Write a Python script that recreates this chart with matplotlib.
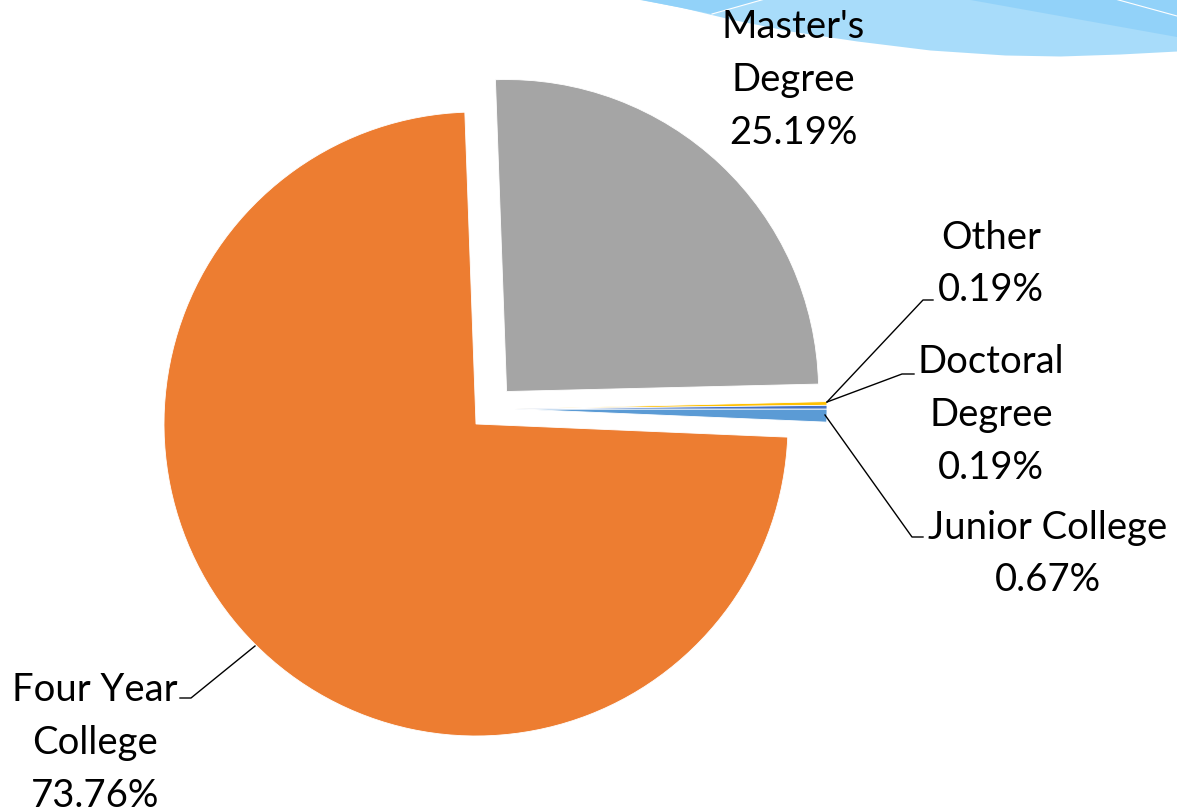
import matplotlib.pyplot as plt
import numpy as np

# education level shares (%), in the order the slices are laid out
categories = ['Junior College', 'Four Year College', "Master's Degree", 'Other', 'Doctoral Degree']
shares = [0.67, 73.76, 25.19, 0.19, 0.19]
colors = ['#5B9BD5', '#ED7D31', '#A5A5A5', '#FFC000', '#4472C4']
label_text = ['Junior College\n0.67%', 'Four Year\nCollege\n73.76%', "Master's\nDegree\n25.19%",
              'Other\n0.19%', 'Doctoral\nDegree\n0.19%']

W, H = 1177, 812
CX, CY, R = 476, 425, 312


# pixel position (from top-left) -> data coords, pie radius = 1
def px(x, y):
    return (x - CX) / R, (CY - y) / R


fig = plt.figure(figsize=(W / 100, H / 100), dpi=100)
ax = fig.add_axes([0, 0, 1, 1])

# decorative swoosh in the top right corner
sx = np.array([637, 680, 730, 790, 857, 930, 1005, 1060, 1120, 1177])
sy = np.array([0, 8, 20, 32, 42, 51, 56, 57, 55, 52])
xs, ys = px(sx, sy)
top = px(0, 0)[1]
ax.fill_between(xs, ys, top, color='#A8DCFA', lw=0, zorder=0)
d1 = np.array([px(637, 0), px(712, 15), px(765, 0)])
d2 = np.array([px(965, 0), px(1177, 38), px(1177, 0)])
ax.fill(d1[:, 0], d1[:, 1], color='#92D2F9', lw=0, zorder=0)
ax.fill(d2[:, 0], d2[:, 1], color='#92D2F9', lw=0, zorder=0)
for (a, b) in [((712, 15), (765, 0)), ((1115, 0), (1177, 17))]:
    p, q = px(*a), px(*b)
    ax.plot([p[0], q[0]], [p[1], q[1]], color='white', lw=0.8, zorder=0)

explode = [0, 0, 0.143, 0, 0]
wedges, _ = ax.pie(shares, colors=colors, startangle=0, counterclock=False,
                   explode=explode, radius=1,
                   wedgeprops=dict(edgecolor='white', linewidth=0.6))
# the tiny slices sit pulled out to the right
for i in (0, 3, 4):
    wedges[i].set_center((0.125, 0.048))

plt.rcParams['font.family'] = ['Lato', 'DejaVu Sans']
fs = 27.5

# label positions (pixel centres of the text blocks) and leader lines
label_pos = [(1048, 554), (95, 743), (793, 80), (991, 264), (991, 415)]
leaders = [
    [(825, 416), (912, 538), (923, 538)],
    [(255, 647), (191, 699), (180, 699)],
    None,
    [(827, 403), (923, 301), (933, 301)],
    [(827, 403), (902, 375), (914, 375)],
]

for txt, pos, ld in zip(label_text, label_pos, leaders):
    x, y = px(*pos)
    ax.text(x, y, txt, ha='center', va='center', fontsize=fs,
            linespacing=1.57, color='black', zorder=5)
    if ld is not None:
        pts = np.array([px(*p) for p in ld])
        ax.plot(pts[:, 0], pts[:, 1], color='black', lw=1, zorder=4)

ax.set_xlim(-CX / R, (W - CX) / R)
ax.set_ylim(-(H - CY) / R, CY / R)
ax.set_aspect('equal')
ax.axis('off')

plt.savefig('out.png', dpi=100)
